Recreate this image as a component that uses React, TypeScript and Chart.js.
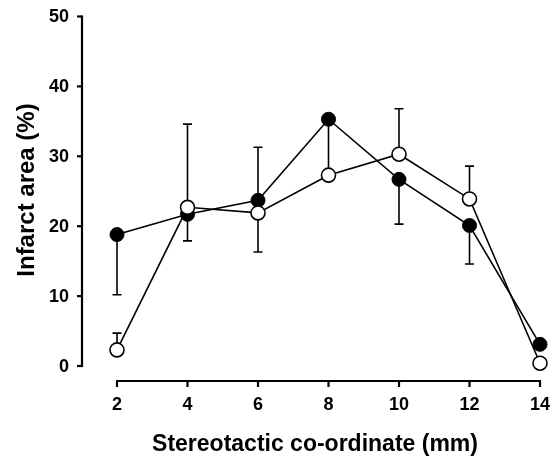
import React, { useEffect, useRef } from "react";
import { Chart, registerables } from "chart.js";

Chart.register(...registerables);

const xValues = [2, 4, 6, 8, 10, 12, 14];
const filledMeans = [18.8, 21.7, 23.7, 35.3, 26.7, 20.1, 3.1];
const filledLower = [10.2, 17.9, 16.3, 27.6, 20.3, 14.6, null];
const openMeans = [2.3, 22.7, 21.9, 27.3, 30.3, 23.9, 0.4];
const openUpper = [4.7, 34.6, 31.3, null, 36.8, 28.6, null];
const xTicks = [2, 4, 6, 8, 10, 12, 14];
const yTicks = [0, 10, 20, 30, 40, 50];
const xTitle = "Stereotactic co-ordinate (mm)";
const yTitle = "Infarct area (%)";

const FONT = "'Liberation Sans', Arial, Helvetica, sans-serif";

const errorBarPlugin = {
  id: "errorBars",
  beforeDatasetsDraw(chart: any) {
    const { ctx, scales } = chart;
    const xs = scales.x;
    const ys = scales.y;
    ctx.save();
    ctx.strokeStyle = "#000";
    ctx.lineWidth = 1.6;
    const cap = 4.5;
    const drawBar = (x: number, from: number, to: number | null) => {
      if (to === null || to === undefined) return;
      const px = xs.getPixelForValue(x);
      const p1 = ys.getPixelForValue(from);
      const p2 = ys.getPixelForValue(to);
      ctx.beginPath();
      ctx.moveTo(px, p1);
      ctx.lineTo(px, p2);
      ctx.moveTo(px - cap, p2);
      ctx.lineTo(px + cap, p2);
      ctx.stroke();
    };
    xValues.forEach((x, i) => {
      drawBar(x, filledMeans[i], filledLower[i]);
      drawBar(x, openMeans[i], openUpper[i]);
    });
    ctx.restore();
  },
};

const axesPlugin = {
  id: "offsetAxes",
  afterDraw(chart: any) {
    const { ctx, scales } = chart;
    const xs = scales.x;
    const ys = scales.y;
    ctx.save();
    ctx.strokeStyle = "#000";
    ctx.fillStyle = "#000";
    ctx.lineWidth = 2.2;
    ctx.lineCap = "butt";

    // Y axis (offset to the left)
    const axisX = xs.left - 35;
    const yTop = ys.getPixelForValue(yTicks[yTicks.length - 1]);
    const yBot = ys.getPixelForValue(yTicks[0]);
    ctx.beginPath();
    ctx.moveTo(axisX, yTop - 1);
    ctx.lineTo(axisX, yBot + 1);
    ctx.stroke();
    ctx.font = `bold 18px ${FONT}`;
    ctx.textAlign = "right";
    ctx.textBaseline = "middle";
    yTicks.forEach((t) => {
      const py = ys.getPixelForValue(t);
      ctx.beginPath();
      ctx.moveTo(axisX - 5, py);
      ctx.lineTo(axisX, py);
      ctx.stroke();
      ctx.fillText(String(t), axisX - 13, py + 1);
    });

    // X axis (offset below)
    const axisY = yBot + 15;
    const xL = xs.getPixelForValue(xTicks[0]);
    const xR = xs.getPixelForValue(xTicks[xTicks.length - 1]);
    ctx.beginPath();
    ctx.moveTo(xL - 1, axisY);
    ctx.lineTo(xR + 1, axisY);
    ctx.stroke();
    ctx.textAlign = "center";
    ctx.textBaseline = "top";
    xTicks.forEach((t) => {
      const px = xs.getPixelForValue(t);
      ctx.beginPath();
      ctx.moveTo(px, axisY);
      ctx.lineTo(px, axisY + 6);
      ctx.stroke();
      ctx.fillText(String(t), px, axisY + 15);
    });

    // Titles
    ctx.font = `bold 23px ${FONT}`;
    ctx.textAlign = "center";
    ctx.textBaseline = "alphabetic";
    ctx.fillText(xTitle, 315, 451);

    ctx.font = `bold 24px ${FONT}`;
    ctx.save();
    ctx.translate(34, 190);
    ctx.rotate(-Math.PI / 2);
    ctx.fillText(yTitle, 0, 0);
    ctx.restore();

    ctx.restore();
  },
};

export default function App() {
  const canvasRef = useRef<HTMLCanvasElement | null>(null);

  useEffect(() => {
    if (!canvasRef.current) return;
    const chart = new Chart(canvasRef.current, {
      type: "line",
      data: {
        datasets: [
          {
            label: "Open",
            data: xValues.map((x, i) => ({ x, y: openMeans[i] })),
            borderColor: "#000",
            backgroundColor: "#fff",
            borderWidth: 1.6,
            pointRadius: 7,
            pointBorderWidth: 1.6,
            pointBackgroundColor: "#fff",
            pointBorderColor: "#000",
            clip: false,
            order: 0,
          },
          {
            label: "Filled",
            data: xValues.map((x, i) => ({ x, y: filledMeans[i] })),
            borderColor: "#000",
            backgroundColor: "#000",
            borderWidth: 1.6,
            pointRadius: 7,
            pointBorderWidth: 1,
            pointBackgroundColor: "#000",
            pointBorderColor: "#000",
            clip: false,
            order: 1,
          },
        ],
      },
      options: {
        animation: false,
        responsive: false,
        layout: { padding: { left: 117, right: 20, top: 16.5, bottom: 90 } },
        plugins: { legend: { display: false }, tooltip: { enabled: false } },
        scales: {
          x: { type: "linear", min: 2, max: 14, display: false },
          y: { type: "linear", min: 0, max: 50, display: false },
        },
      },
      plugins: [errorBarPlugin, axesPlugin],
    });
    return () => chart.destroy();
  }, []);

  return (
    <div style={{ position: "fixed", left: 0, top: 0, width: 560, height: 456, background: "#fff" }}>
      <canvas ref={canvasRef} width={560} height={456} />
    </div>
  );
}
